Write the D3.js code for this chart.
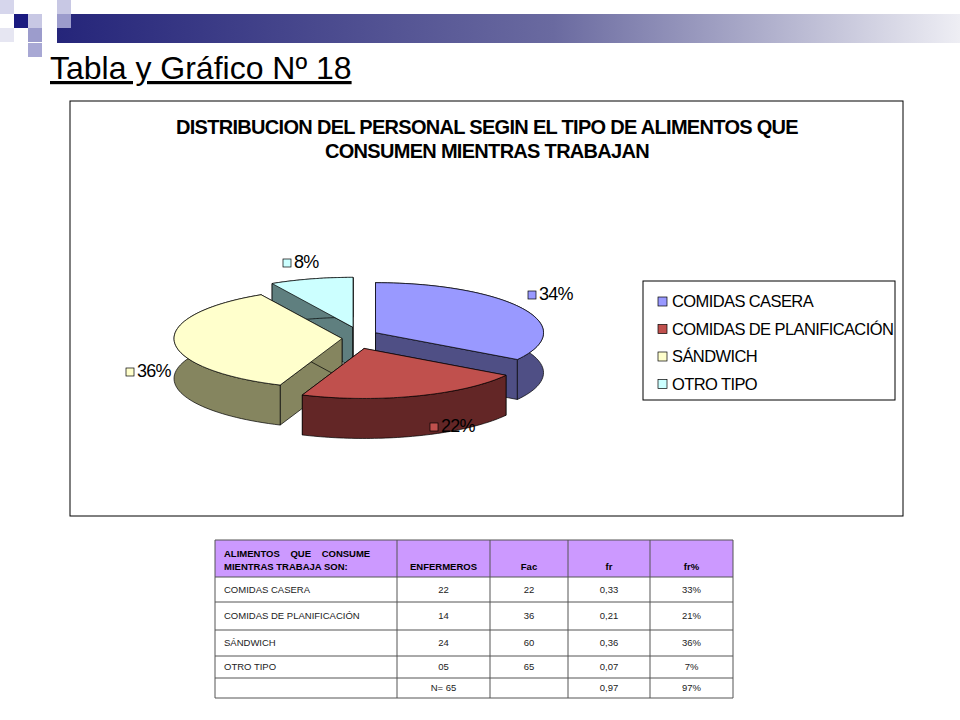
<!DOCTYPE html><html><head><meta charset="utf-8">
<script src="https://cdn.jsdelivr.net/npm/d3@7"></script>
<style>body{margin:0;background:#fff}svg{font-family:Arial,"Liberation Sans",sans-serif}</style></head><body>
<svg id="s" width="960" height="720"></svg>
<script>
const categories=["COMIDAS CASERA","COMIDAS DE PLANIFICACIÓN","SÁNDWICH","OTRO TIPO"];
const pctValues=[34,22,36,8];
const topColors=["#9999FF","#C0504D","#FFFFCC","#CCFFFF"];
const sideColors=["#4F4F85","#632626","#85855F","#5F7F7F"];
const enfermeros=["22","14","24","05","N= 65"];
const facCol=["22","36","60","65",""];
const frCol=["0,33","0,21","0,36","0,07","0,97"];
const frPctCol=["33%","21%","36%","7%","97%"];
const svg=d3.select("#s");
const g=svg.append("defs").append("linearGradient").attr("id","gr");
g.append("stop").attr("offset",0).attr("stop-color","#25257A");
g.append("stop").attr("offset",0.55).attr("stop-color","#6A6AA0");
g.append("stop").attr("offset",1).attr("stop-color","#EEEEF4");
svg.append("rect").attr("x",57).attr("y",14).attr("width",903).attr("height",29).attr("fill","url(#gr)");
[[0,0,"#D6D6EC"],[57,0,"#C8C8E4"],[28,14,"#C8C8E4"],[57,14,"#9C9CCC"],[28,28,"#9C9CCC"],[0,28,"#E6E6F2"],[28,43,"#A8A8D4"],[14,14,"#1A1A80"]].forEach(d=>
 svg.append("rect").attr("x",d[0]).attr("y",d[1]).attr("width",14).attr("height",14).attr("fill",d[2]));
svg.append("text").attr("x",50).attr("y",79).attr("font-size",32).attr("text-decoration","underline").text("Tabla y Gráfico Nº 18");
svg.append("rect").attr("x",70).attr("y",101).attr("width",833).attr("height",415).attr("fill","#fff").attr("stroke","#000");
["DISTRIBUCION DEL PERSONAL SEGIN EL TIPO DE ALIMENTOS QUE","CONSUMEN MIENTRAS TRABAJAN"].forEach((t,i)=>
 svg.append("text").attr("x",487).attr("y",134+i*24).attr("text-anchor","middle").attr("font-size",20).attr("font-weight","bold").attr("letter-spacing",-0.7).text(t));
const cx=358,cy=338,rx=168,ry=50,depth=40,expl=[20,20,16,20];
const arcs=d3.pie().sort(null)(pctValues);
const P=(a,ox,oy,r=1,dy=0)=>[ox+rx*r*Math.sin(a),oy-ry*r*Math.cos(a)+dy];
const slices=arcs.map((a,i)=>{const m=(a.startAngle+a.endAngle)/2;return{i,a,m,ox:cx+expl[i]*Math.sin(m),oy:cy-expl[i]*0.55*Math.cos(m)}});
const pg=svg.append("g");
slices.slice().sort((p,q)=>-Math.cos(p.m)+Math.cos(q.m)).forEach(s=>{
 const {a,ox,oy,i}=s;const line=d3.line();
 [a.startAngle,a.endAngle].forEach(t=>{const e=P(t,ox,oy);
  pg.append("path").attr("d",line([[ox,oy],e,[e[0],e[1]+depth],[ox,oy+depth]])+"Z").attr("fill",sideColors[i]).attr("stroke","#000").attr("stroke-width",0.7);});
 const n=60,top=[],bot=[];
 for(let k=0;k<=n;k++){const t=a.startAngle+(a.endAngle-a.startAngle)*k/n;top.push(P(t,ox,oy));bot.push(P(t,ox,oy,1,depth));}
 pg.append("path").attr("d",line(top.concat(bot.reverse()))+"Z").attr("fill",sideColors[i]).attr("stroke","#000").attr("stroke-width",0.7);
 const tp=[[ox,oy]];for(let k=0;k<=n;k++){tp.push(P(a.startAngle+(a.endAngle-a.startAngle)*k/n,ox,oy));}
 pg.append("path").attr("d",line(tp)+"Z").attr("fill",topColors[i]).attr("stroke","#000").attr("stroke-width",0.7);
});
const lab=[[528,300],[430,432],[126,377],[283,268]];
pctValues.forEach((v,i)=>{
 svg.append("rect").attr("x",lab[i][0]).attr("y",lab[i][1]-9).attr("width",8).attr("height",8).attr("fill",topColors[i]).attr("stroke","#000").attr("stroke-width",0.7);
 svg.append("text").attr("x",lab[i][0]+11).attr("y",lab[i][1]).attr("font-size",18).attr("letter-spacing",-0.8).text(v+"%");});
svg.append("rect").attr("x",643).attr("y",281).attr("width",252).attr("height",119).attr("fill","#fff").attr("stroke","#000");
categories.forEach((c,i)=>{const y=306+i*27.5;
 svg.append("rect").attr("x",658).attr("y",y-9).attr("width",9).attr("height",9).attr("fill",topColors[i]).attr("stroke","#000").attr("stroke-width",0.7);
 svg.append("text").attr("x",672).attr("y",y+1).attr("font-size",16.5).attr("letter-spacing",-0.6).text(c);});
const colX=[215,397,490,568,650,733],rowY=[540,577,602,630,656,678,698];
svg.append("rect").attr("x",215).attr("y",540).attr("width",518).attr("height",37).attr("fill","#CC99FF");
const tg=svg.append("g").attr("stroke","#555").attr("stroke-width",1);
colX.forEach(x=>tg.append("line").attr("x1",x).attr("x2",x).attr("y1",540).attr("y2",698));
rowY.forEach(y=>tg.append("line").attr("x1",215).attr("x2",733).attr("y1",y).attr("y2",y));
const fs=9.5;
svg.append("text").attr("x",224).attr("y",557).attr("font-size",fs).attr("font-weight","bold").attr("word-spacing",8).text("ALIMENTOS QUE CONSUME");
svg.append("text").attr("x",224).attr("y",570).attr("font-size",fs).attr("font-weight","bold").text("MIENTRAS TRABAJA SON:");
["ENFERMEROS","Fac","fr","fr%"].forEach((h,j)=>svg.append("text").attr("x",(colX[j+1]+colX[j+2])/2).attr("y",570).attr("text-anchor","middle").attr("font-size",fs).attr("font-weight","bold").text(h));
const cols=[enfermeros,facCol,frCol,frPctCol];
for(let r=0;r<5;r++){const y=(rowY[r+1]+rowY[r+2])/2+3;
 if(r<4)svg.append("text").attr("x",224).attr("y",y).attr("font-size",fs).attr("fill","#222").text(categories[r]);
 cols.forEach((c,j)=>svg.append("text").attr("x",(colX[j+1]+colX[j+2])/2).attr("y",y).attr("text-anchor","middle").attr("font-size",fs).attr("fill","#222").text(c[r]));}
</script></body></html>
